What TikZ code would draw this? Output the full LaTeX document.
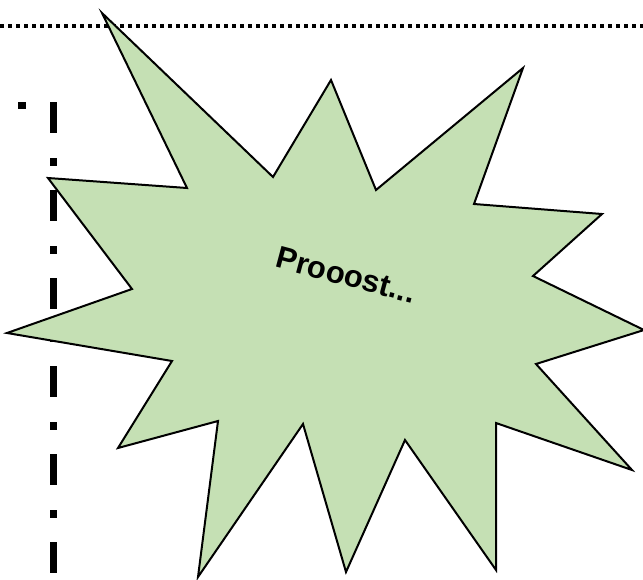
\documentclass[tikz,border=0pt]{standalone}
\usepackage{fontspec}
\setmainfont{Liberation Sans}
\usepackage{xcolor}
\definecolor{burstgreen}{RGB}{197,224,180}

\begin{document}
\begin{tikzpicture}[x=1pt, y=-1pt,
    burst/.style={draw=black, line width=2pt, line join=miter, fill=burstgreen},
    dotline/.style={line width=4pt, dash pattern=on 4pt off 4pt},
    dashdotline/.style={line width=7pt, dash pattern=on 31pt off 25pt on 8pt off 24pt},
    shout/.style={font=\fontsize{31}{37}\selectfont\bfseries, rotate=-15, inner sep=0pt}
]
    \useasboundingbox (0,0) rectangle (643,579);
    % guide lines behind the burst
    \draw[dotline] (0,26) -- (643,26);
    \draw[dashdotline] (53,102) -- (53,579);
    \fill (18,102) rectangle (26,109);
    % explosion
    \draw[burst] (102,13) -- (273,177) -- (331,80) -- (376,190) -- (523,68)
        -- (474,204) -- (602,214) -- (533,276) -- (644,330) -- (536,364)
        -- (632,470) -- (496,423) -- (496,570) -- (405,440) -- (346,572)
        -- (303,424) -- (198,577) -- (218,421) -- (118,448) -- (172,361)
        -- (7,333) -- (132,289) -- (48,178) -- (187,188) -- cycle;
    \node[shout] (txt) at (346,275) {Prooost...};
\end{tikzpicture}
\end{document}
